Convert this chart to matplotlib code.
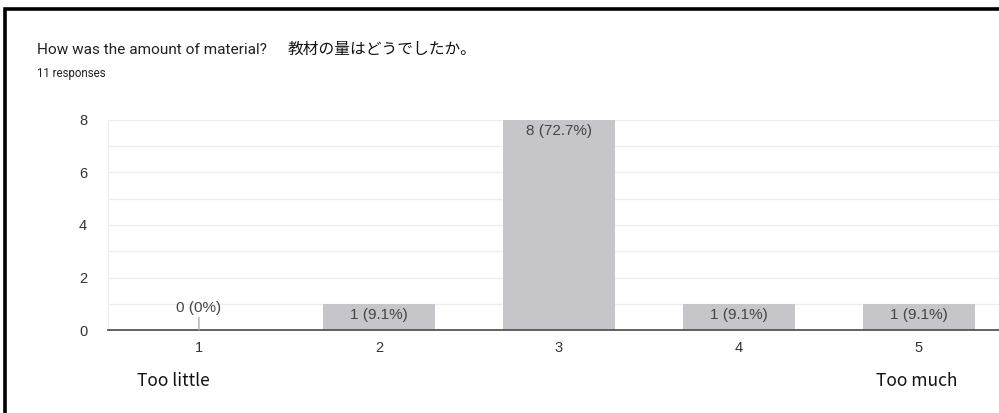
import matplotlib
matplotlib.use("Agg")
import matplotlib.pyplot as plt
from matplotlib.patches import Rectangle

# data
categories = ["1", "2", "3", "4", "5"]
counts = [0, 1, 8, 1, 1]
total = 11
title_en = "How was the amount of material?"
title_ja = "教材の量はどうでしたか。"
subtitle = f"{total} responses"
low_label = "Too little"
high_label = "Too much"

W, H = 999, 413
fig = plt.figure(figsize=(W / 100, H / 100), dpi=100)


def fx(px):
    return px / W


def fy(py):
    return 1 - py / H


# screenshot frame (cut at right and bottom)
fig.patches.append(Rectangle((fx(5), fy(460)), fx(1100), fy(9) - fy(460),
                             transform=fig.transFigure, fill=False,
                             edgecolor="black", linewidth=2.6))

fig.text(fx(37), fy(54), title_en, fontsize=11.1, color="#202124",
         family=["Roboto", "DejaVu Sans"], va="baseline")
fig.text(fx(288), fy(54), title_ja, fontsize=11.3, color="#111111",
         family=["Noto Sans CJK JP", "DejaVu Sans"], va="baseline")
fig.text(fx(37), fy(77), subtitle, fontsize=8.3, color="#202124",
         family=["Roboto", "DejaVu Sans"], va="baseline")

ax = fig.add_axes([fx(108), fy(330), fx(900), fy(120) - fy(330)])
x = list(range(len(categories)))
bar_color = "#c6c5c9"
ax.bar(x, counts, width=0.62, color=bar_color, zorder=2)

ax.set_xlim(-0.505, len(categories) - 0.505)
ax.set_ylim(0, 8)
ax.set_yticks([0, 2, 4, 6, 8])
ax.set_yticks([1, 3, 5, 7], minor=True)
ax.grid(axis="y", which="both", color="#eeeeee", linewidth=1, zorder=0)
ax.set_xticks(x)
ax.set_xticklabels(categories)
ax.tick_params(axis="both", which="both", length=0, labelsize=10.5,
               labelcolor="#333333")
ax.tick_params(axis="x", pad=8)
ax.tick_params(axis="y", pad=15)
for lbl in ax.get_xticklabels() + ax.get_yticklabels():
    lbl.set_family(["Liberation Sans", "DejaVu Sans"])

for side in ["top", "right"]:
    ax.spines[side].set_visible(False)
ax.spines["left"].set_color("#eeeeee")
ax.spines["bottom"].set_color("#555555")
ax.spines["bottom"].set_linewidth(1.3)
ax.spines["bottom"].set_zorder(3)

for xi, c in zip(x, counts):
    pct = c / total * 100
    txt = f"{c} ({pct:.1f}%)" if c else f"{c} (0%)"
    if c > 0:
        ax.annotate(txt, (xi, c), xytext=(0, -3), textcoords="offset points",
                    ha="center", va="top", fontsize=11, color="#444444",
                    family=["Liberation Sans", "DejaVu Sans"], zorder=4)
    else:
        ax.annotate(txt, (xi, 0), xytext=(0, 11), textcoords="offset points",
                    ha="center", va="bottom", fontsize=11, color="#444444",
                    family=["Liberation Sans", "DejaVu Sans"], zorder=4,
                    arrowprops=dict(arrowstyle="-", color="#aaaaaa", lw=1,
                                    shrinkA=0, shrinkB=0))

fig.text(fx(137), fy(386), low_label, fontsize=12.5, color="#111111",
         family=["Noto Sans CJK JP", "DejaVu Sans"], va="baseline")
fig.text(fx(876), fy(386), high_label, fontsize=12.5, color="#111111",
         family=["Noto Sans CJK JP", "DejaVu Sans"], va="baseline")

fig.savefig("out.png", dpi=100)
